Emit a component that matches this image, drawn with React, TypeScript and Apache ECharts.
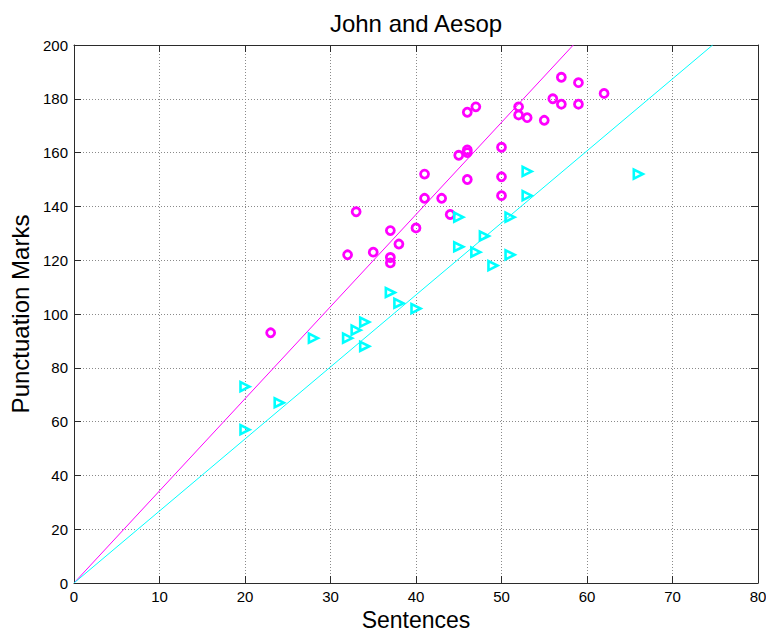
import React, { useEffect, useRef } from "react";
import * as echarts from "echarts";

const johnSentences = [23, 32, 33, 35, 37, 37, 37, 38, 40, 41, 41, 43, 44, 45, 46, 46, 46, 46, 47, 50, 50, 50, 52, 52, 53, 55, 56, 57, 57, 59, 59, 62];
const johnPunctuation = [93, 122, 138, 123, 121, 119, 131, 126, 132, 152, 143, 143, 137, 159, 175, 161, 160, 150, 177, 162, 151, 144, 177, 174, 173, 172, 180, 188, 178, 186, 178, 182];

const aesopSentences = [20, 20, 24, 28, 32, 33, 34, 34, 37, 38, 40, 45, 45, 47, 48, 49, 51, 51, 53, 53, 66];
const aesopPunctuation = [73, 57, 67, 91, 91, 94, 97, 88, 108, 104, 102, 136, 125, 123, 129, 118, 136, 122, 153, 144, 152];

// fitted lines through the origin: [x, y] endpoints
const johnFit = [[0, 0], [58.4, 200]];
const aesopFit = [[0, 0], [74.7, 200]];

const xTicks = { min: 0, max: 80, interval: 10 };
const yTicks = { min: 0, max: 200, interval: 20 };

const FONT = "'Liberation Sans', Arial, Helvetica, sans-serif";

export default function App() {
  const ref = useRef<HTMLDivElement>(null);

  useEffect(() => {
    if (!ref.current) return;
    const chart = echarts.init(ref.current, undefined, { renderer: "svg" });

    const axisLine = { show: true, onZero: false, lineStyle: { color: "#2b2b2b", width: 1 } };
    const axisTick = { show: true, inside: true, length: 7, lineStyle: { color: "#2b2b2b", width: 1 } };
    const splitLine = { show: true, lineStyle: { color: "#8a8a8a", width: 1, type: [1, 2] } };
    const axisLabel = { show: true, fontSize: 15, color: "#000", fontFamily: FONT, margin: 6 };

    const option: any = {
      animation: false,
      backgroundColor: "#fff",
      textStyle: { fontFamily: FONT },
      graphic: [
        {
          type: "text",
          x: 416,
          y: 23,
          style: {
            text: "John and Aesop",
            fontSize: 24,
            fontFamily: FONT,
            fill: "#000",
            align: "center",
            verticalAlign: "middle",
          },
        },
      ],
      grid: { left: 74, right: 8, top: 45, bottom: 49, containLabel: false, outerBoundsMode: "none" },
      xAxis: [
        {
          type: "value",
          position: "bottom",
          ...xTicks,
          axisLine,
          axisTick,
          splitLine,
          axisLabel,
          name: "Sentences",
          nameLocation: "middle",
          nameGap: 25,
          nameTextStyle: { fontSize: 23, lineHeight: 20, color: "#000", fontFamily: FONT },
        },
        {
          type: "value",
          position: "top",
          ...xTicks,
          axisLine,
          axisTick,
          splitLine: { show: false },
          axisLabel: { show: false },
        },
      ],
      yAxis: [
        {
          type: "value",
          position: "left",
          ...yTicks,
          axisLine,
          axisTick,
          splitLine,
          axisLabel,
          name: "Punctuation Marks",
          nameLocation: "middle",
          nameGap: 33,
          nameTextStyle: { fontSize: 24, color: "#000", fontFamily: FONT },
        },
        {
          type: "value",
          position: "right",
          ...yTicks,
          axisLine,
          axisTick,
          splitLine: { show: false },
          axisLabel: { show: false },
        },
      ],
      series: [
        {
          type: "line",
          name: "John fit",
          data: johnFit,
          showSymbol: false,
          silent: true,
          lineStyle: { color: "#ff00ff", width: 1 },
          z: 1,
        },
        {
          type: "line",
          name: "Aesop fit",
          data: aesopFit,
          showSymbol: false,
          silent: true,
          lineStyle: { color: "#00ffff", width: 1 },
          z: 1,
        },
        {
          type: "scatter",
          name: "John",
          data: johnSentences.map((x, i) => [x, johnPunctuation[i]]),
          symbol: "circle",
          symbolSize: 8,
          itemStyle: { color: "rgba(0,0,0,0)", borderColor: "#ff00ff", borderWidth: 2.8, opacity: 1 },
          z: 3,
        },
        {
          type: "scatter",
          name: "Aesop",
          data: aesopSentences.map((x, i) => [x, aesopPunctuation[i]]),
          symbol: "triangle",
          symbolRotate: -90,
          symbolSize: 9,
          itemStyle: { color: "rgba(0,0,0,0)", borderColor: "#00ffff", borderWidth: 2.6, opacity: 1 },
          z: 3,
        },
      ],
    };

    chart.setOption(option);
    return () => chart.dispose();
  }, []);

  return (
    <div
      ref={ref}
      style={{ position: "absolute", left: 0, top: 0, width: 766, height: 632, background: "#fff" }}
    />
  );
}
